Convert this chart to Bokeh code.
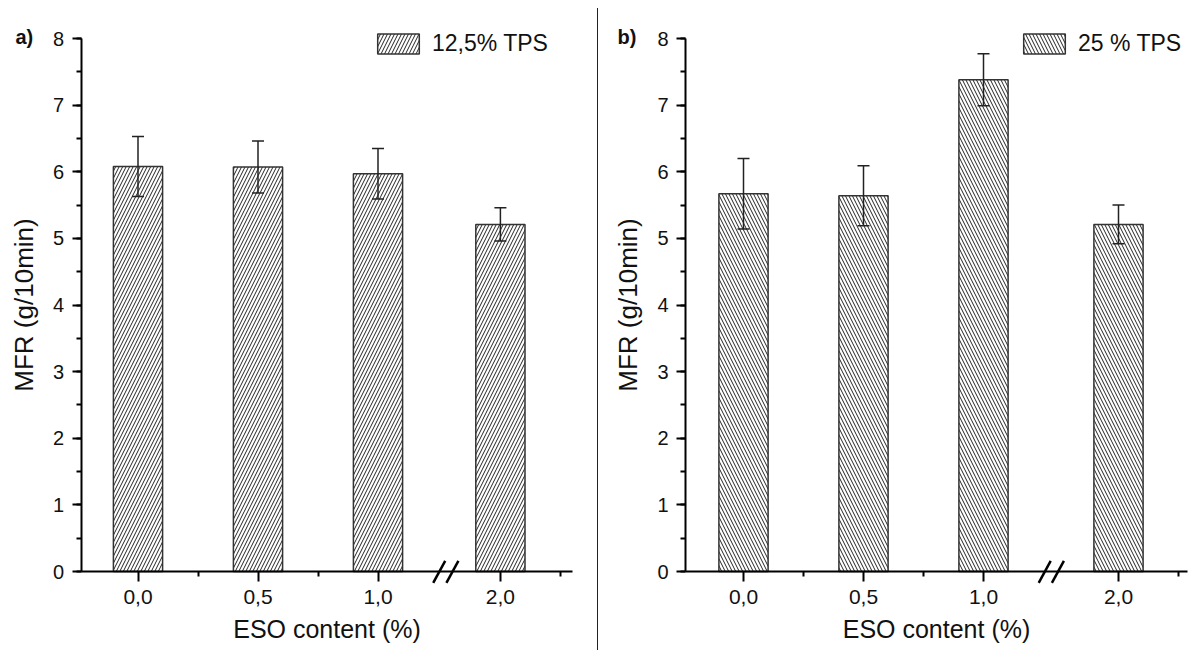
from bokeh.plotting import figure
from bokeh.layouts import row
from bokeh.models import (Range1d, SingleIntervalTicker, FixedTicker, Legend, LegendItem,
                          Label, Arrow, Div)
from bokeh.embed import file_html
from bokeh.resources import INLINE

# ---- data ----
categories = ["0,0", "0,5", "1,0", "2,0"]
# category positions on the broken x axis (gap before 2,0)
pos_a = [0, 1, 2, 3.02]
pos_b = [0, 1, 2, 3.125]
mfr_a = [6.08, 6.07, 5.97, 5.21]
err_a = [0.45, 0.39, 0.38, 0.25]
mfr_b = [5.67, 5.64, 7.38, 5.21]
err_b = [0.53, 0.45, 0.39, 0.29]
label_a = "12,5% TPS"
label_b = "25 % TPS"
y_ticks_max = 8
break_at = 2.565

FONT = "Liberation Sans"
H = 650
PX_X = 120.0          # pixels per category unit
Y0_PX = 571.0         # page y of value 0
PX_Y = (571.0 - 38.0) / 8.0


def make_panel(pos, vals, errs, legend_label, hatch, tag, left_px, width, first_px, axis_px,
               axis_end_px, leg_px):
    # data ranges so that the whole canvas is the frame
    x0 = (left_px - first_px) / PX_X
    x1 = (left_px + width - first_px) / PX_X
    y0 = -(H - Y0_PX) / PX_Y
    y1 = Y0_PX / PX_Y
    xa = (axis_px - first_px) / PX_X
    xe = (axis_end_px - first_px) / PX_X

    p = figure(width=width, height=H, output_backend="svg", toolbar_location=None,
               x_range=Range1d(x0, x1), y_range=Range1d(y0, y1),
               min_border_left=0, min_border_right=0, min_border_top=0, min_border_bottom=0)
    p.outline_line_color = None
    p.xgrid.visible = False
    p.ygrid.visible = False
    p.background_fill_color = "white"
    p.border_fill_color = "white"

    bars = p.vbar(x=pos, top=vals, bottom=0, width=0.41, fill_color="white",
                  line_color="#333333", line_width=1.5, hatch_pattern=hatch, hatch_scale=7,
                  hatch_weight=1, hatch_color="#222222")
    lo = [v - e for v, e in zip(vals, errs)]
    hi = [v + e for v, e in zip(vals, errs)]
    p.segment(x0=pos, y0=lo, x1=pos, y1=hi, line_color="#222222", line_width=1.5)
    cap = 0.05
    p.segment(x0=[x - cap for x in pos], y0=hi, x1=[x + cap for x in pos], y1=hi,
              line_color="#222222", line_width=1.5)
    p.segment(x0=[x - cap for x in pos], y0=lo, x1=[x + cap for x in pos], y1=lo,
              line_color="#222222", line_width=1.5)

    # axes (fixed in the data space)
    yax = p.yaxis[0]
    yax.fixed_location = xa
    yax.bounds = (0, y_ticks_max)
    yax.ticker = SingleIntervalTicker(interval=1, num_minor_ticks=2)
    yax.axis_label = "MFR (g/10min)"
    xax = p.xaxis[0]
    xax.fixed_location = 0
    xax.bounds = (xa, xe)
    xax.ticker = FixedTicker(ticks=pos, minor_ticks=[0.5, 1.5, pos[-1] + 0.5])
    xax.major_label_overrides = {pos[i]: categories[i] for i in range(len(pos))}
    xax.axis_label = "ESO content (%)"
    for ax in (xax, yax):
        ax.axis_line_width = 2
        ax.axis_line_color = "black"
        ax.major_tick_line_width = 2
        ax.minor_tick_line_width = 2
        ax.major_tick_line_color = "black"
        ax.minor_tick_line_color = "black"
        ax.major_tick_in = 0
        ax.minor_tick_in = 0
        ax.major_label_text_font = FONT
        ax.major_label_text_color = "#111111"
        ax.axis_label_text_font = FONT
        ax.axis_label_text_font_style = "normal"
        ax.axis_label_text_color = "#111111"
    xax.axis_label_text_font_size = "25px"
    yax.axis_label_text_font_size = "26px"
    yax.major_label_text_font_size = "20px"
    xax.major_label_text_font_size = "21px"
    yax.major_tick_out = 9
    yax.minor_tick_out = 5
    yax.major_label_standoff = 8
    yax.axis_label_standoff = 11
    xax.major_tick_out = 10
    xax.minor_tick_out = 5
    xax.major_label_standoff = 8
    xax.axis_label_standoff = 8

    # axis break marks
    for dx in (-0.055, 0.055):
        p.add_layout(Arrow(end=None, x_start=break_at + dx - 0.05, y_start=-0.17,
                           x_end=break_at + dx + 0.05, y_end=0.16,
                           line_color="black", line_width=2.5))

    leg = Legend(items=[LegendItem(label=legend_label, renderers=[bars])],
                 location=(leg_px - left_px, H - 57), glyph_width=52, glyph_height=25,
                 label_text_font=FONT, label_text_font_size="23px",
                 label_text_color="#111111", label_standoff=8,
                 border_line_alpha=0, background_fill_alpha=0, padding=0, margin=0, spacing=0)
    p.add_layout(leg)

    tag_px = 15 if tag == "a)" else 617
    p.add_layout(Label(x=tag_px - left_px, y=H - 36, x_units="screen", y_units="screen",
                       text=tag, text_font=FONT, text_font_size="20px", text_font_style="bold",
                       text_color="#111111", text_baseline="alphabetic"))
    return p


p1 = make_panel(pos_a, mfr_a, err_a, label_a, "/", "a)", 0, 597, 137.5, 80.5, 572, 372)
sep = Div(text="", width=1, height=642, margin=(8, 0, 0, 0),
          styles={"background-color": "#222222"})
p2 = make_panel(pos_b, mfr_b, err_b, label_b, "\\", "b)", 598, 598, 743, 685, 1187, 1018)

layout = row(p1, sep, p2)
open("out.html", "w").write(file_html(layout, INLINE))
